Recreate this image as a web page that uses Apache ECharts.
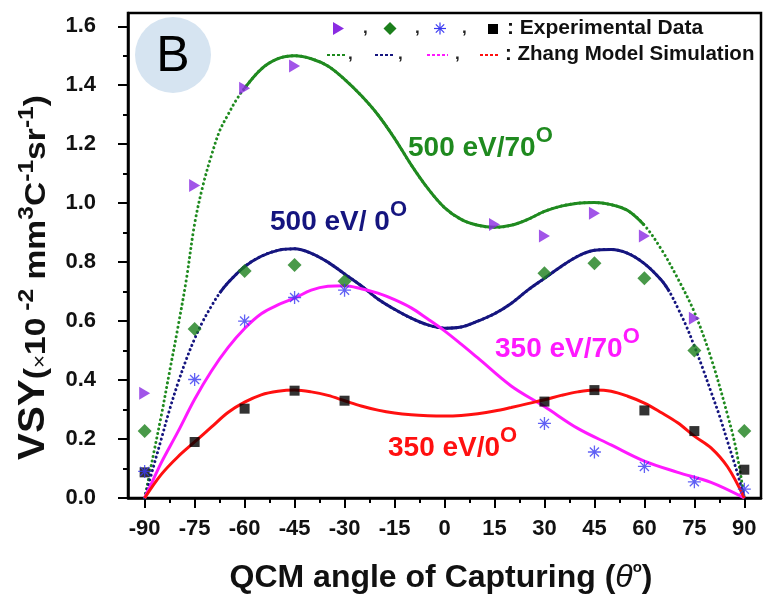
<!DOCTYPE html>
<html>
<head>
<meta charset="utf-8">
<script src="https://cdn.jsdelivr.net/npm/echarts@6/dist/echarts.min.js"></script>
<style>
html, body { margin: 0; padding: 0; background: #fff; }
#main { width: 764px; height: 595px; }
</style>
</head>
<body>
<div id="main"></div>
<script>
// tick positions
var xTickValues = [-90, -75, -60, -45, -30, -15, 0, 15, 30, 45, 60, 75, 90];
var xMinorTicks = [-82.5, -67.5, -52.5, -37.5, -22.5, -7.5, 7.5, 22.5, 37.5, 52.5, 67.5, 82.5];
var yTickValues = [0, 0.2, 0.4, 0.6, 0.8, 1.0, 1.2, 1.4, 1.6];
var yMinorTicks = [0.1, 0.3, 0.5, 0.7, 0.9, 1.1, 1.3, 1.5];

// experimental data
var triX = [-90, -75, -60, -45, 15, 30, 45, 60, 75];
var triY = [0.355, 1.06, 1.39, 1.465, 0.928, 0.889, 0.966, 0.889, 0.61];
var diaX = [-90, -75, -60, -45, -30, 30, 45, 60, 75, 90];
var diaY = [0.227, 0.573, 0.77, 0.79, 0.735, 0.762, 0.796, 0.745, 0.5, 0.227];
var astX = [-90, -75, -60, -45, -30, 30, 45, 60, 75, 90];
var astY = [0.09, 0.402, 0.6, 0.68, 0.705, 0.253, 0.156, 0.107, 0.055, 0.03];
var sqX = [-90, -75, -60, -45, -30, 30, 45, 60, 75, 90];
var sqY = [0.087, 0.19, 0.303, 0.364, 0.33, 0.327, 0.366, 0.297, 0.227, 0.096];

// Zhang model curves
var greenX = [-90, -87.5, -85, -82.5, -80, -77.5, -75, -72.5, -70, -67.5, -65, -62.5, -60, -55, -50, -45, -40, -35, -30, -25, -20, -15, -10, -5, 0, 5, 10, 15, 20, 25, 30, 35, 40, 45, 50, 55, 60, 65, 70, 75, 80, 85, 87.5, 90];
var greenY = [0, 0.14, 0.28, 0.43, 0.58, 0.74, 0.93, 1.06, 1.16, 1.245, 1.3, 1.35, 1.39, 1.455, 1.49, 1.5, 1.49, 1.465, 1.42, 1.365, 1.3, 1.22, 1.13, 1.05, 0.985, 0.945, 0.925, 0.918, 0.925, 0.945, 0.972, 0.99, 1.0, 1.002, 0.995, 0.975, 0.925, 0.845, 0.745, 0.63, 0.475, 0.28, 0.166, 0];
var blueX = [-90, -87.5, -85, -82.5, -80, -77.5, -75, -72.5, -70, -67.5, -65, -60, -55, -50, -45, -40, -35, -30, -25, -20, -15, -10, -5, 0, 5, 10, 15, 20, 25, 30, 35, 40, 45, 50, 55, 60, 65, 67.5, 70, 72.5, 75, 77.5, 80, 82.5, 85, 87.5, 90];
var blueY = [0, 0.1, 0.2, 0.3, 0.39, 0.47, 0.54, 0.6, 0.65, 0.695, 0.73, 0.785, 0.82, 0.84, 0.845, 0.83, 0.8, 0.76, 0.72, 0.675, 0.64, 0.61, 0.587, 0.576, 0.58, 0.6, 0.625, 0.66, 0.705, 0.745, 0.785, 0.82, 0.84, 0.843, 0.83, 0.795, 0.74, 0.7, 0.645, 0.585, 0.515, 0.44, 0.36, 0.28, 0.19, 0.1, 0];
var pinkX = [-90, -87.5, -85, -80, -75, -70, -65, -60, -55, -50, -45, -40, -35, -30, -25, -20, -15, -10, -5, 0, 5, 10, 20, 30, 40, 50, 60, 70, 80, 90];
var pinkY = [0, 0.06, 0.12, 0.225, 0.335, 0.43, 0.51, 0.575, 0.625, 0.655, 0.678, 0.705, 0.718, 0.72, 0.71, 0.695, 0.673, 0.645, 0.607, 0.567, 0.522, 0.475, 0.38, 0.31, 0.236, 0.18, 0.125, 0.087, 0.053, 0];
var redX = [-90, -85, -80, -75, -70, -65, -60, -55, -50, -45, -40, -35, -30, -25, -20, -15, -10, -5, 0, 5, 10, 15, 20, 25, 30, 35, 40, 45, 50, 55, 60, 65, 70, 75, 80, 85, 90];
var redY = [0, 0.08, 0.14, 0.19, 0.24, 0.29, 0.325, 0.35, 0.362, 0.366, 0.36, 0.348, 0.33, 0.312, 0.298, 0.288, 0.282, 0.279, 0.278, 0.28, 0.286, 0.295, 0.307, 0.32, 0.333, 0.348, 0.36, 0.366, 0.362, 0.345, 0.322, 0.29, 0.255, 0.21, 0.17, 0.105, 0];

var FONT = '"Liberation Sans", Arial, sans-serif';
var GREEN = '#1f8a1f', NAVY = '#15157f', PINK = '#ff19ff', RED = '#ff1010';

function pairs(xs, ys, lo, hi) {
    var out = [];
    for (var i = 0; i < xs.length; i++) {
        if (xs[i] >= lo && xs[i] <= hi) out.push([xs[i], ys[i]]);
    }
    return out;
}

// whole curve dotted underneath, solid part drawn over it
function curve(xs, ys, color, solidTo) {
    var base = { type: 'line', smooth: 0.35, showSymbol: false, silent: true };
    var list = [];
    if (solidTo) {
        list.push(Object.assign({}, base, { z: 2, data: pairs(xs, ys, -90, 90),
            lineStyle: { color: color, width: 3, type: [0.1, 4.6], cap: 'round' } }));
    }
    var lim = solidTo || 90;
    list.push(Object.assign({}, base, { z: 3, data: pairs(xs, ys, -lim, lim),
        lineStyle: { color: color, width: 3 } }));
    return list;
}

var measureCtx = document.createElement('canvas').getContext('2d');
// lay out a row of text pieces (for superscripts) along a baseline
function textRun(pieces, x0, baseY, color) {
    var items = [], x = x0;
    pieces.forEach(function (p) {
        var font = (p.italic ? 'italic ' : '') + (p.bold === false ? 'normal ' : 'bold ') + p.size + 'px ' + FONT;
        measureCtx.font = font;
        var w = measureCtx.measureText(p.t).width;
        items.push({
            type: 'text', x: x, y: baseY - (p.rise || 0) - 0.35 * p.size, silent: true,
            style: { text: p.t, font: font, fill: p.color || color, align: 'left', verticalAlign: 'middle' }
        });
        x += w;
    });
    return { items: items, width: x - x0 };
}

var astPath = 'path://M5,0L5,10M0,5L10,5M1.5,1.5L8.5,8.5M1.5,8.5L8.5,1.5';

var series = []
    .concat(curve(greenX, greenY, GREEN, 60))
    .concat(curve(blueX, blueY, NAVY, 67.5))
    .concat(curve(pinkX, pinkY, PINK, null))
    .concat(curve(redX, redY, RED, null));

series.push(
    { type: 'scatter', data: pairs(sqX, sqY, -90, 90), symbol: 'rect', symbolSize: 10, itemStyle: { color: '#000' }, z: 5 },
    { type: 'scatter', data: pairs(astX, astY, -90, 90), symbol: astPath, symbolSize: 13, itemStyle: { color: 'rgba(0,0,0,0)', borderColor: '#3a3af2', borderWidth: 1.3 }, z: 6 },
    { type: 'scatter', data: pairs(diaX, diaY, -90, 90), symbol: 'diamond', symbolSize: 14, itemStyle: { color: '#1b7f1b' }, z: 5 },
    { type: 'scatter', data: pairs(triX, triY, -90, 90), symbol: 'triangle', symbolRotate: -90, symbolSize: [13, 11], itemStyle: { color: '#8a2be2' }, z: 5 }
);

// text pieces
var graphics = [];
graphics.push({ type: 'circle', shape: { cx: 173, cy: 55, r: 38 }, style: { fill: '#d6e4f1' }, silent: true });
graphics.push({ type: 'text', x: 173, y: 57, silent: true, style: { text: 'B', font: 'normal 50px ' + FONT, fill: '#000', align: 'center', verticalAlign: 'middle' } });

function addRun(pieces, x, y, color) {
    var r = textRun(pieces, x, y, color);
    graphics = graphics.concat(r.items);
}
addRun([{ t: '500 eV/70', size: 28 }, { t: 'O', size: 22, rise: 14 }], 408, 158, GREEN);
addRun([{ t: '500 eV/ 0', size: 28 }, { t: 'O', size: 22, rise: 14 }], 270, 232, NAVY);
addRun([{ t: '350 eV/70', size: 28 }, { t: 'O', size: 22, rise: 14 }], 495, 359, PINK);
addRun([{ t: '350 eV/0', size: 28 }, { t: 'O', size: 22, rise: 14 }], 388, 458, RED);

// legend, top right
graphics.push({ type: 'polygon', shape: { points: [[333, 22], [333, 35], [344, 28.5]] }, style: { fill: '#8a2be2' }, silent: true });
graphics.push({ type: 'polygon', shape: { points: [[390, 22], [396.5, 28.5], [390, 35], [383.5, 28.5]] }, style: { fill: '#1b7f1b' }, silent: true });
[[440, 22.5, 440, 34.5], [434, 28.5, 446, 28.5], [435.8, 24.3, 444.2, 32.7], [435.8, 32.7, 444.2, 24.3]].forEach(function (l) {
    graphics.push({ type: 'line', shape: { x1: l[0], y1: l[1], x2: l[2], y2: l[3] }, style: { stroke: '#3a3af2', lineWidth: 1.2 }, silent: true });
});
graphics.push({ type: 'rect', shape: { x: 488, y: 24, width: 10, height: 10 }, style: { fill: '#000' }, silent: true });
[363, 415, 462].forEach(function (cx) { addRun([{ t: ',', size: 17 }], cx, 34, '#222'); });
addRun([{ t: ': Experimental Data', size: 21 }], 507, 36, '#111');

[[327, 345, GREEN], [375, 395, NAVY], [427, 448, PINK], [480, 498, RED]].forEach(function (d) {
    graphics.push({ type: 'line', shape: { x1: d[0], y1: 55, x2: d[1], y2: 55 }, style: { stroke: d[2], lineWidth: 2, lineDash: [3, 2] }, silent: true });
});
[348, 398, 455].forEach(function (cx) { addRun([{ t: ',', size: 17 }], cx, 60, '#222'); });
addRun([{ t: ': Zhang Model Simulation', size: 20.5 }], 505, 62, '#111');

// axis titles
var xt = textRun([
    { t: 'QCM angle of Capturing (', size: 32 },
    { t: 'θ', size: 32, italic: true, bold: false },
    { t: 'o', size: 15, rise: 16 },
    { t: ')', size: 32 }
], 0, 0, '#111');
graphics.push({ type: 'group', x: 441 - xt.width / 2, y: 589, children: xt.items, silent: true });

var yt = textRun([
    { t: 'VSY', size: 36 },
    { t: '(', size: 30 },
    { t: '×', size: 20, bold: false },
    { t: '10', size: 30 },
    { t: ' -2', size: 22, rise: 12 },
    { t: ' mm', size: 30 },
    { t: '3', size: 22, rise: 12 },
    { t: 'C', size: 30 },
    { t: '-1', size: 22, rise: 12 },
    { t: 'sr', size: 30 },
    { t: '-1', size: 22, rise: 12 },
    { t: ')', size: 30 }
], 0, 0, '#111');
graphics.push({ type: 'group', x: 47, y: 460, rotation: Math.PI / 2, scaleX: 365 / yt.width, children: yt.items, silent: true });

var chart = echarts.init(document.getElementById('main'), null, { renderer: 'canvas' });
chart.setOption({
    animation: false,
    backgroundColor: '#fff',
    grid: { left: 128, right: 3, top: 13, bottom: 97, show: true, borderColor: '#000', borderWidth: 2.5, backgroundColor: 'transparent' },
    xAxis: [{
        type: 'value', min: -95, max: 95, position: 'bottom',
        axisLine: { onZero: false, lineStyle: { color: '#000', width: 2.5 } },
        axisTick: { customValues: xTickValues, length: 10, lineStyle: { color: '#000', width: 2 } },
        axisLabel: { customValues: xTickValues, margin: 20, fontSize: 22, fontWeight: 'bold', fontFamily: FONT, color: '#111' },
        splitLine: { show: false }
    }, {
        type: 'value', min: -95, max: 95, position: 'bottom',
        axisLine: { show: false, onZero: false },
        axisTick: { customValues: xMinorTicks, length: 5, lineStyle: { color: '#000', width: 2 } },
        axisLabel: { show: false },
        splitLine: { show: false }
    }],
    yAxis: [{
        type: 'value', min: 0, max: 1.645, position: 'left',
        axisLine: { onZero: false, lineStyle: { color: '#000', width: 2.5 } },
        axisTick: { customValues: yTickValues, length: 10, lineStyle: { color: '#000', width: 2 } },
        axisLabel: { customValues: yTickValues, margin: 32, fontSize: 22, fontWeight: 'bold', fontFamily: FONT, color: '#111',
            formatter: function (v) { return v.toFixed(1); } },
        splitLine: { show: false }
    }, {
        type: 'value', min: 0, max: 1.645, position: 'left',
        axisLine: { show: false, onZero: false },
        axisTick: { customValues: yMinorTicks, length: 5, lineStyle: { color: '#000', width: 2 } },
        axisLabel: { show: false },
        splitLine: { show: false }
    }],
    series: series,
    graphic: graphics
});
</script>
</body>
</html>
